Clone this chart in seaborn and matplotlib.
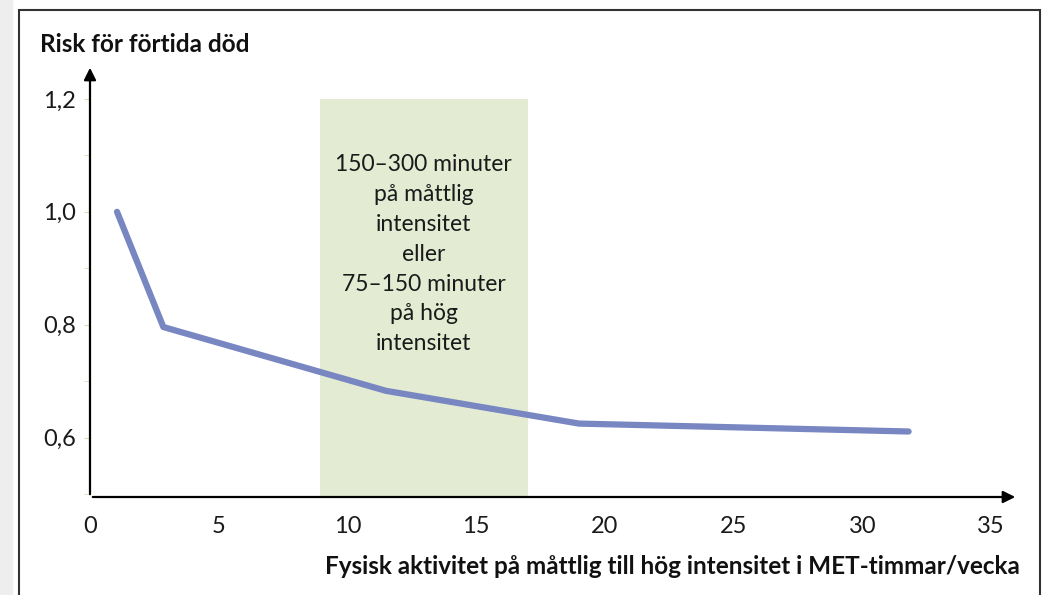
import matplotlib.pyplot as plt
import matplotlib.patches as mpatches
import pandas as pd
import seaborn as sns

# data
met_hours = [1.05, 2.85, 11.5, 19.0, 31.8]
risk = [1.0, 0.796, 0.683, 0.625, 0.611]
band_start, band_end = 8.93, 17.0
x_ticks = [0, 5, 10, 15, 20, 25, 30, 35]
y_ticks = [0.6, 0.8, 1.0, 1.2]
y_tick_labels = ['0,6', '0,8', '1,0', '1,2']
band_text = '150–300 minuter\npå måttlig\nintensitet\neller\n75–150 minuter\npå hög\nintensitet'

df = pd.DataFrame({'MET': met_hours, 'Risk': risk})

sns.set_style('white')
plt.rcParams['font.family'] = ['Lato', 'DejaVu Sans']

fig = plt.figure(figsize=(10.45, 5.95), dpi=100)
# screenshot frame
fig.patches.append(mpatches.Rectangle((0, 0), 12 / 1045, 1, transform=fig.transFigure,
                                      color='#eeeeee', zorder=0))
fig.patches.append(mpatches.Rectangle((19 / 1045, -0.05), 1021 / 1045, 1.05 - 10 / 595,
                                      transform=fig.transFigure, fill=False,
                                      edgecolor='#333333', lw=1.5, zorder=1))

ax = fig.add_axes([90 / 1045, 1 - 497 / 595, 928 / 1045, 432 / 595])
ax.set_xlim(0, 36.05)
ax.set_ylim(0.495, 1.26)

# recommended range
ax.axvspan(band_start, band_end, ymin=0, ymax=(1.2 - 0.495) / (1.26 - 0.495),
           color='#e3ecd3', lw=0, zorder=0)
ax.text((band_start + band_end) / 2, 0.925, band_text, ha='center', va='center',
        fontsize=16.5, linespacing=1.52, color='#1a1a1a')

sns.lineplot(data=df, x='MET', y='Risk', ax=ax, color='#7886c2', lw=4.5,
             solid_capstyle='round', solid_joinstyle='round', zorder=3)

for s in ax.spines.values():
    s.set_visible(False)
ax.annotate('', xy=(1, 0), xytext=(0, 0), xycoords='axes fraction',
            arrowprops=dict(arrowstyle='-|>', color='black', lw=1.6, mutation_scale=18))
ax.annotate('', xy=(0, 1), xytext=(0, 0), xycoords='axes fraction',
            arrowprops=dict(arrowstyle='-|>', color='black', lw=1.6, mutation_scale=18))

ax.set_xticks(x_ticks)
ax.set_xticklabels([str(t) for t in x_ticks])
ax.set_yticks(y_ticks)
ax.set_yticklabels(y_tick_labels)
ax.set_yticks([0.5, 0.7, 0.9, 1.1], minor=True)
ax.tick_params(axis='x', length=0, pad=14, labelsize=17, colors='#1a1a1a')
ax.tick_params(axis='y', which='both', length=4, color='#cfe0b8', pad=6, labelsize=17,
               labelcolor='#1a1a1a', left=True)
ax.set_xlabel('')
ax.set_ylabel('')

fig.text(40 / 1045, 1 - 45 / 595, 'Risk för förtida död', fontsize=17.5, fontweight='bold',
         va='center', ha='left', color='#111111')
fig.text(672 / 1045, 1 - 566 / 595, 'Fysisk aktivitet på måttlig till hög intensitet i MET-timmar/vecka',
         fontsize=17.5, fontweight='bold', va='center', ha='center', color='#111111')

fig.savefig('out.png', dpi=100)
